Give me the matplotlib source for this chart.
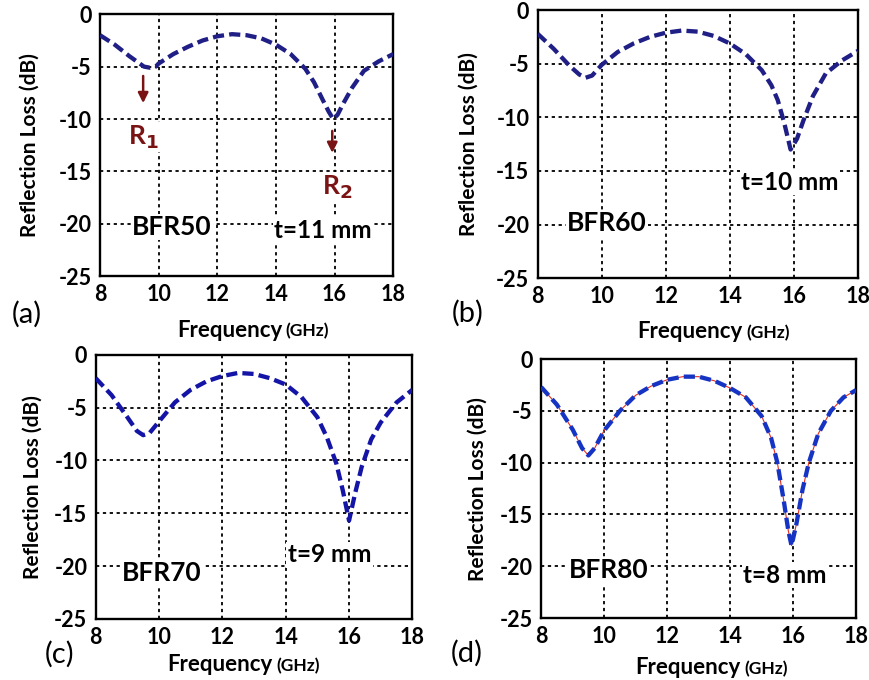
"""
Reflection loss of BFR50-BFR80 absorbers, 8-18 GHz
"""

import matplotlib.pyplot as plt

plt.rcParams['font.family'] = ['Lato', 'DejaVu Sans']
plt.rcParams['axes.unicode_minus'] = False

# frequency (GHz) and reflection loss (dB) for each sample
freq_a = [8.0, 8.5, 9.0, 9.3, 9.5, 9.7, 9.9, 10.0, 10.5, 11.0, 11.5, 12.0, 12.5,
          13.0, 13.5, 14.0, 14.5, 15.0, 15.3, 15.6, 15.8, 15.95, 16.1, 16.3,
          16.6, 17.0, 17.5, 18.0]
rl_a = [-2.0, -2.9, -4.0, -4.6, -5.0, -5.1, -5.0, -4.7, -3.8, -3.1, -2.5, -2.1,
        -1.9, -2.0, -2.3, -2.9, -3.8, -5.2, -6.5, -8.2, -9.3, -10.0, -9.6, -8.5,
        -7.0, -5.4, -4.5, -3.8]

freq_b = [8.0, 8.5, 9.0, 9.3, 9.5, 9.7, 10.0, 10.5, 11.0, 11.5, 12.0, 12.5, 13.0,
          13.5, 14.0, 14.5, 15.0, 15.3, 15.5, 15.7, 15.9, 16.1, 16.3, 16.6, 17.0,
          17.5, 18.0]
rl_b = [-2.2, -3.6, -5.2, -6.0, -6.3, -6.1, -5.1, -3.9, -3.1, -2.5, -2.1, -1.9,
        -2.0, -2.4, -3.1, -4.1, -5.6, -7.0, -8.4, -10.5, -13.0, -12.0, -10.3,
        -8.0, -5.9, -4.7, -3.8]

freq_c = [8.0, 8.5, 9.0, 9.3, 9.5, 9.7, 10.0, 10.5, 11.0, 11.5, 12.0, 12.5, 13.0,
          13.5, 14.0, 14.5, 15.0, 15.3, 15.6, 15.8, 16.0, 16.2, 16.4, 16.7, 17.0,
          17.5, 18.0]
rl_c = [-2.2, -3.8, -5.9, -7.2, -7.6, -7.4, -6.3, -4.5, -3.3, -2.5, -2.0, -1.7,
        -1.8, -2.2, -2.8, -4.0, -5.9, -7.8, -10.3, -12.8, -15.7, -13.0, -10.6,
        -8.0, -6.4, -4.5, -3.3]

freq_d = [8.0, 8.5, 9.0, 9.3, 9.5, 9.7, 10.0, 10.5, 11.0, 11.5, 12.0, 12.5, 13.0,
          13.5, 14.0, 14.5, 15.0, 15.3, 15.5, 15.7, 15.85, 15.95, 16.1, 16.3,
          16.5, 16.8, 17.2, 17.6, 18.0]
rl_d = [-2.7, -4.4, -6.8, -8.6, -9.3, -8.6, -6.9, -5.0, -3.5, -2.6, -2.0, -1.7,
        -1.7, -2.1, -2.8, -3.7, -5.5, -7.6, -10.0, -13.6, -16.6, -18.0, -16.0,
        -12.6, -10.0, -7.2, -5.0, -3.7, -3.0]

# sample name, thickness label, text positions (axes fraction)
panels = [
    ("(a)", "BFR50", "t=11 mm", freq_a, rl_a, "#1f1f86",
     [0.115, 0.594, 0.337, 0.385], (0.246, 0.187), (0.76, 0.176),
     (-0.25, -0.145), (0.621, -0.206), (-0.24, 0.5)),
    ("(b)", "BFR60", "t=10 mm", freq_b, rl_b, "#1f1f86",
     [0.618, 0.591, 0.368, 0.394], (0.216, 0.205), (0.788, 0.358),
     (-0.22, -0.13), (0.64, -0.20), (-0.215, 0.5)),
    ("(c)", "BFR70", "t=9 mm", freq_c, rl_c, "#1414a6",
     [0.110, 0.090, 0.364, 0.388], (0.208, 0.174), (0.738, 0.242),
     (-0.115, -0.136), (0.558, -0.174), (-0.2, 0.5)),
    ("(d)", "BFR80", "t=8 mm", freq_d, rl_d, "#1634c4",
     [0.622, 0.091, 0.362, 0.381], (0.213, 0.185), (0.775, 0.166),
     (-0.235, -0.135), (0.632, -0.19), (-0.2, 0.5)),
]

fig = plt.figure(figsize=(8.7, 6.8), dpi=100)
white = dict(facecolor="white", edgecolor="none", pad=1)

for tag, name, thick, f, rl, col, rect, p_name, p_t, p_tag, p_x, p_y in panels:
    ax = fig.add_axes(rect)
    if tag == "(d)":
        ax.plot(f, rl, color="#e03020", lw=0.8, zorder=2)
    ax.plot(f, rl, color=col, lw=3.1, dashes=(2.6, 1.2), zorder=3)
    ax.set_xlim(8, 18)
    ax.set_ylim(-25, 0)
    ax.set_xticks([8, 10, 12, 14, 16, 18])
    ax.set_yticks([0, -5, -10, -15, -20, -25])
    ax.grid(True, color="black", linestyle=(0, (1.8, 2.0)), lw=1.3)
    ax.tick_params(length=0, labelsize=15.5, pad=6)
    for lbl in ax.get_xticklabels() + ax.get_yticklabels():
        lbl.set_fontweight("bold")
    for sp in ax.spines.values():
        sp.set_linewidth(1.7)

    ax.text(*p_name, name, transform=ax.transAxes, ha="center", va="center",
            fontsize=19, fontweight="bold", bbox=white, zorder=4)
    ax.text(*p_t, thick, transform=ax.transAxes, ha="center", va="center",
            fontsize=17.5, fontweight="bold", bbox=white, zorder=4)
    ax.text(*p_tag, tag, transform=ax.transAxes, ha="center", va="center",
            fontsize=21)
    ax.text(p_x[0], p_x[1], "Frequency", transform=ax.transAxes, ha="right",
            va="center", fontsize=16, fontweight="bold")
    ax.text(p_x[0] + 0.012, p_x[1] - 0.005, "(GHz)", transform=ax.transAxes,
            ha="left", va="center", fontsize=12.5, fontweight="bold")
    ax.text(*p_y, "Reflection Loss (dB)", transform=ax.transAxes, rotation=90,
            ha="center", va="center", fontsize=15, fontweight="bold")

    # resonance peaks marked on the first sample
    if tag == "(a)":
        red = "#7a1414"
        for xa, y0, y1, xt, yt, lab in [(0.147, 0.775, 0.65, 0.147, 0.53, "R$_\\mathbf{1}$"),
                                        (0.792, 0.565, 0.46, 0.809, 0.34, "R$_\\mathbf{2}$")]:
            ax.annotate("", xy=(xa, y1), xytext=(xa, y0), xycoords="axes fraction",
                        arrowprops=dict(arrowstyle="-|>", color=red, lw=1.8,
                                        mutation_scale=15))
            ax.text(xt, yt, lab, transform=ax.transAxes, ha="center", va="center",
                    fontsize=19, fontweight="bold", color=red, bbox=white, zorder=4)

plt.savefig("out.png")
